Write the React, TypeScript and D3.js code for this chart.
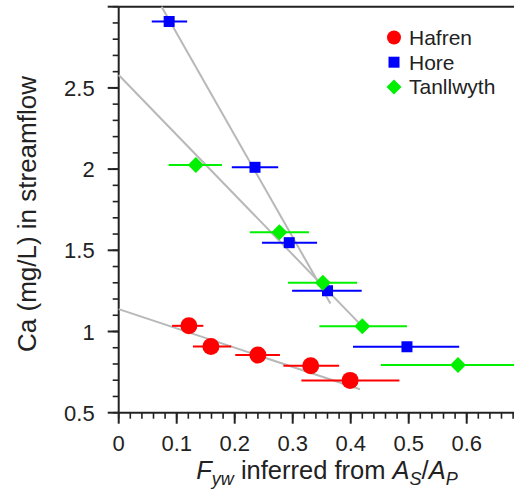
import React, { useEffect, useRef } from 'react'
import * as d3 from 'd3'

// Hafren
const hafrenX = [0.121, 0.159, 0.240, 0.331, 0.399]
const hafrenY = [1.035, 0.908, 0.855, 0.789, 0.699]
const hafrenLo = [0.092, 0.128, 0.201, 0.284, 0.315]
const hafrenHi = [0.146, 0.194, 0.278, 0.380, 0.484]

// Hore
const horeX = [0.087, 0.235, 0.294, 0.360, 0.497]
const horeY = [2.909, 2.011, 1.547, 1.251, 0.906]
const horeLo = [0.057, 0.195, 0.247, 0.299, 0.404]
const horeHi = [0.118, 0.275, 0.342, 0.419, 0.587]

// Tanllwyth
const tanX = [0.133, 0.277, 0.352, 0.420, 0.585]
const tanY = [2.025, 1.611, 1.300, 1.032, 0.794]
const tanLo = [0.086, 0.226, 0.292, 0.346, 0.452]
const tanHi = [0.178, 0.328, 0.411, 0.497, 0.720]

// fitted lines [x0, y0, x1, y1]
const hafrenFit = [0, 1.138, 0.416, 0.644]
const horeFit = [0.074, 3.0, 0.365, 1.172]
const tanFit = [0, 2.579, 0.422, 1.024]

const xMajor = [0, 0.1, 0.2, 0.3, 0.4, 0.5, 0.6]
const yMajor = [0.5, 1, 1.5, 2, 2.5, 3]
const yLabels = ['0.5', '1', '1.5', '2', '2.5', '']

const seriesNames = ['Hafren', 'Hore', 'Tanllwyth']
const colors = ['#ff0000', '#0000ff', '#00f000']

const font = 'Liberation Sans, Arial, sans-serif'

// diamond whose half-diagonal is sqrt(size / 2)
const bigDiamond = {
    draw(ctx: any, size: number) {
        const r = Math.sqrt(size / 2)
        ctx.moveTo(0, -r)
        ctx.lineTo(r, 0)
        ctx.lineTo(0, r)
        ctx.lineTo(-r, 0)
        ctx.closePath()
    }
}

export default function App() {
    const ref = useRef<SVGSVGElement>(null)

    useEffect(() => {
        const svg = d3.select(ref.current)
        svg.selectAll('*').remove()

        const x = d3.scaleLinear().domain([0, 0.7]).range([118.7, 524.7])
        const y = d3.scaleLinear().domain([0.5, 3.0]).range([412.7, 6.7])

        // top frame
        svg.append('line')
            .attr('x1', x(0)).attr('x2', 514)
            .attr('y1', y(3)).attr('y2', y(3))
            .attr('stroke', '#222').attr('stroke-width', 2)

        // axes
        const xMinor = d3.range(0, 0.69, 0.02)
        const yMinor = d3.range(0.5, 3.01, 0.1)

        const ax = svg.append('g').attr('stroke', '#222')
        ax.append('line').attr('x1', x(0)).attr('x2', 514).attr('y1', y(0.5)).attr('y2', y(0.5)).attr('stroke-width', 2)
        ax.append('line').attr('x1', x(0)).attr('x2', x(0)).attr('y1', y(0.5)).attr('y2', y(3)).attr('stroke-width', 2)

        ax.selectAll('.xmin').data(xMinor).join('line')
            .attr('x1', d => x(d)).attr('x2', d => x(d))
            .attr('y1', y(0.5)).attr('y2', y(0.5) + 6).attr('stroke-width', 1.6)
        ax.selectAll('.xmaj').data(xMajor).join('line')
            .attr('x1', d => x(d)).attr('x2', d => x(d))
            .attr('y1', y(0.5)).attr('y2', y(0.5) + 11).attr('stroke-width', 2)
        ax.selectAll('.ymin').data(yMinor).join('line')
            .attr('x1', x(0) - 6).attr('x2', x(0))
            .attr('y1', d => y(d)).attr('y2', d => y(d)).attr('stroke-width', 1.6)
        ax.selectAll('.ymaj').data(yMajor).join('line')
            .attr('x1', x(0) - 11).attr('x2', x(0))
            .attr('y1', d => y(d)).attr('y2', d => y(d)).attr('stroke-width', 2)

        svg.append('g').selectAll('text').data(xMajor).join('text')
            .attr('x', d => x(d)).attr('y', y(0.5) + 38)
            .attr('text-anchor', 'middle')
            .attr('font-family', font).attr('font-size', 22).attr('fill', '#222')
            .text(d => String(d))

        svg.append('g').selectAll('text').data(yMajor).join('text')
            .attr('x', x(0) - 24).attr('y', d => y(d) + 8)
            .attr('text-anchor', 'end')
            .attr('font-family', font).attr('font-size', 22).attr('fill', '#222')
            .text((d, i) => yLabels[i])

        // axis titles
        svg.append('text')
            .attr('transform', 'translate(36,214) rotate(-90)')
            .attr('text-anchor', 'middle')
            .attr('font-family', font).attr('font-size', 26).attr('fill', '#222')
            .text('Ca (mg/L) in streamflow')

        const xt = svg.append('text')
            .attr('x', 327).attr('y', 479)
            .attr('text-anchor', 'middle')
            .attr('font-family', font).attr('font-size', 25.5).attr('fill', '#222')
        xt.append('tspan').attr('font-style', 'italic').text('F')
        xt.append('tspan').attr('font-style', 'italic').attr('font-size', 18).attr('dy', 6).text('yw')
        xt.append('tspan').attr('dy', -6).text(' inferred from ')
        xt.append('tspan').attr('font-style', 'italic').text('A')
        xt.append('tspan').attr('font-style', 'italic').attr('font-size', 18).attr('dy', 6).text('S')
        xt.append('tspan').attr('dy', -6).text('/')
        xt.append('tspan').attr('font-style', 'italic').text('A')
        xt.append('tspan').attr('font-style', 'italic').attr('font-size', 18).attr('dy', 6).text('P')

        // fit lines
        svg.append('g').selectAll('line').data([hafrenFit, horeFit, tanFit]).join('line')
            .attr('x1', d => x(d[0])).attr('y1', d => y(d[1]))
            .attr('x2', d => x(d[2])).attr('y2', d => y(d[3]))
            .attr('stroke', '#b8b8b8').attr('stroke-width', 2)

        const series = [
            { xs: hafrenX, ys: hafrenY, lo: hafrenLo, hi: hafrenHi },
            { xs: horeX, ys: horeY, lo: horeLo, hi: horeHi },
            { xs: tanX, ys: tanY, lo: tanLo, hi: tanHi },
        ]

        const symbols = [
            d3.symbol().type(d3.symbolCircle).size(Math.PI * 8.5 * 8.5),
            d3.symbol().type(d3.symbolSquare).size(11 * 11),
            d3.symbol().type(bigDiamond as any).size(2 * 8 * 8),
        ]

        series.forEach((s, k) => {
            const g = svg.append('g')
            const pts = s.xs.map((v, i) => ({ x: v, y: s.ys[i], lo: s.lo[i], hi: s.hi[i] }))
            g.selectAll('line').data(pts).join('line')
                .attr('x1', d => x(d.lo)).attr('x2', d => x(d.hi))
                .attr('y1', d => y(d.y)).attr('y2', d => y(d.y))
                .attr('stroke', colors[k]).attr('stroke-width', 2)
            g.selectAll('path').data(pts).join('path')
                .attr('transform', d => `translate(${x(d.x)},${y(d.y)})`)
                .attr('d', symbols[k]())
                .attr('fill', colors[k])
        })

        // legend
        const legendSymbols = [
            d3.symbol().type(d3.symbolCircle).size(Math.PI * 7 * 7),
            d3.symbol().type(d3.symbolSquare).size(11 * 11),
            d3.symbol().type(bigDiamond as any).size(2 * 7.5 * 7.5),
        ]
        const lg = svg.append('g')
        seriesNames.forEach((name, i) => {
            const by = 45 + i * 24.7
            lg.append('path')
                .attr('transform', `translate(394,${by - 7.5})`)
                .attr('d', legendSymbols[i]())
                .attr('fill', colors[i])
            lg.append('text')
                .attr('x', 409).attr('y', by)
                .attr('font-family', font).attr('font-size', 21).attr('fill', '#222')
                .text(name)
        })
    }, [])

    return (
        <svg ref={ref} width={514} height={494}
            style={{ position: 'absolute', left: 0, top: 0, background: '#fff' }} />
    )
}
